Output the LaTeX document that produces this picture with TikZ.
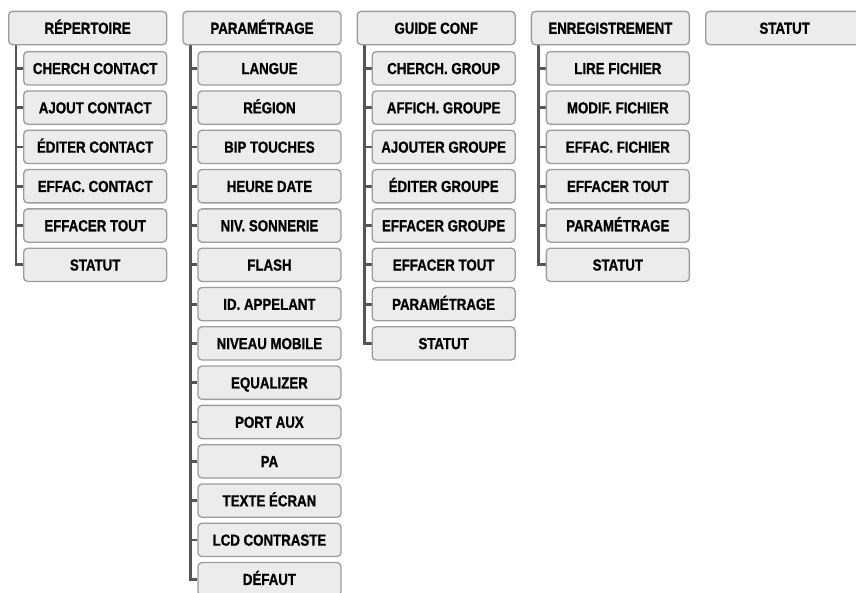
\documentclass[tikz,border=0pt]{standalone}
\usepackage{fontspec}
\setmainfont[FakeStretch=0.83,BoldFeatures={FakeBold=0.9}]{Liberation Sans}
\usetikzlibrary{backgrounds}
\definecolor{boxgray}{HTML}{9C9C9C}
\definecolor{boxfill}{HTML}{ECECEC}
\definecolor{linegray}{HTML}{555555}
\tikzset{
  menubox/.style={draw=boxgray, fill=boxfill, rounded corners=4pt, line width=1.3pt,
    minimum height=33.3pt, inner sep=0pt, anchor=north west,
    text height=11.5pt, text depth=0pt,
    font=\fontsize{16}{18}\selectfont\bfseries},
  topbox/.style={menubox, minimum width=158pt},
  subbox/.style={menubox, minimum width=143pt},
  tree/.style={draw=linegray, line width=2.8pt}
}
\newcommand\menucol[5]{%
  \node[topbox] (#1t) at (#2,-10.7) {#3};
  \coordinate (#1l) at (#2+8,-40);
  \foreach \s [count=\i] in {#4} {
    \node[subbox] (#1r\i) at (#2+15,{-51-(\i-1)*39.3}) {\s};
    \begin{scope}[on background layer]
      \draw[tree] (#1l |- #1r\i.west) -- (#1r\i.west);
    \end{scope}
  }
  \begin{scope}[on background layer]
    \draw[tree] (#1l) -- (#1l |- #1r#5.west) -- (#1r#5.west);
  \end{scope}
}
\begin{document}
\begin{tikzpicture}[x=1pt,y=1pt]
\useasboundingbox (0,0) rectangle (856,-592);
\clip (0,0) rectangle (856,-592);
\menucol{a}{8}{RÉPERTOIRE}{CHERCH CONTACT,AJOUT CONTACT,ÉDITER CONTACT,EFFAC. CONTACT,EFFACER TOUT,STATUT}{6}
\menucol{b}{182.3}{PARAMÉTRAGE}{LANGUE,RÉGION,BIP TOUCHES,HEURE DATE,NIV. SONNERIE,FLASH,ID. APPELANT,NIVEAU MOBILE,EQUALIZER,PORT AUX,PA,TEXTE ÉCRAN,LCD CONTRASTE,DÉFAUT}{14}
\menucol{c}{356.5}{GUIDE CONF}{CHERCH. GROUP,AFFICH. GROUPE,AJOUTER GROUPE,ÉDITER GROUPE,EFFACER GROUPE,EFFACER TOUT,PARAMÉTRAGE,STATUT}{8}
\menucol{d}{530.7}{ENREGISTREMENT}{LIRE FICHIER,MODIF. FICHIER,EFFAC. FICHIER,EFFACER TOUT,PARAMÉTRAGE,STATUT}{6}
\node[topbox] (et) at (705,-10.7) {STATUT};
\end{tikzpicture}
\end{document}
